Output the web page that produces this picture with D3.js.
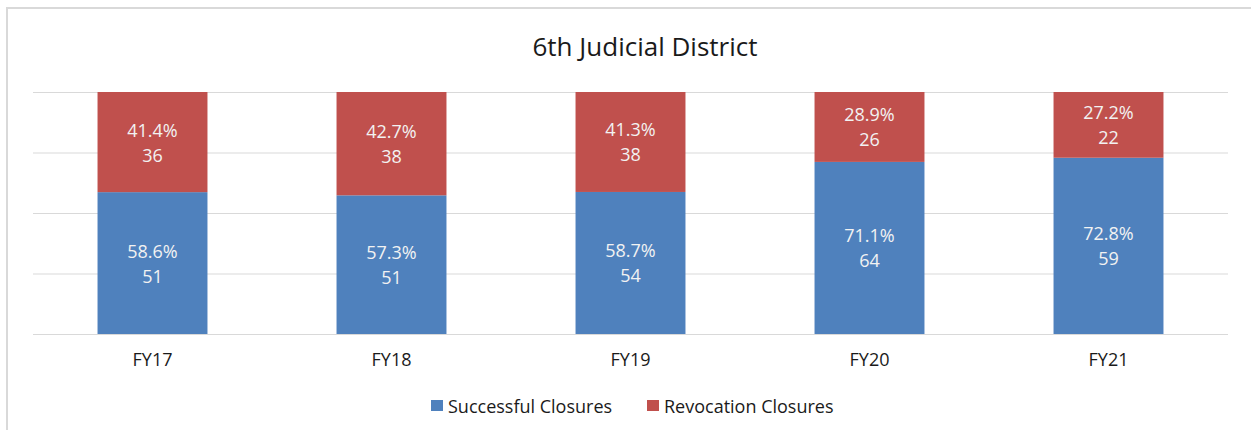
<head>
    <script src="https://d3js.org/d3.v7.min.js"></script>
    <style>
        body { margin: 0; background: #fff; }
        text { font-family: "Open Sans", sans-serif; }
    </style>
</head>

<body>
    <div id="graph"></div>
</body>
<script>
    // values
    const years = ['FY17', 'FY18', 'FY19', 'FY20', 'FY21']
    const successful = [51, 51, 54, 64, 59]
    const revocation = [36, 38, 38, 26, 22]
    const seriesNames = ['Successful Closures', 'Revocation Closures']
    const colors = ['#4f81bd', '#c0504d']
    const gridTicks = [0, 0.25, 0.5, 0.75, 1]

    const rows = years.map((y, i) => {
        const total = successful[i] + revocation[i]
        return {
            year: y,
            s: successful[i] / total, r: revocation[i] / total,
            sCount: successful[i], rCount: revocation[i]
        }
    })

    const svg = d3.select('#graph').append('svg')
        .attr('width', 1251)
        .attr('height', 430)

    // chart frame (only top and left edges are visible in the picture)
    svg.append('rect')
        .attr('x', 7).attr('y', 8)
        .attr('width', 1260).attr('height', 440)
        .attr('fill', 'none')
        .attr('stroke', '#d9d9d9')
        .attr('stroke-width', 2)

    svg.append('text')
        .attr('x', 645).attr('y', 56)
        .attr('text-anchor', 'middle')
        .attr('font-size', 26)
        .attr('fill', '#1a1a1a')
        .text('6th Judicial District')

    const xScale = d3.scaleBand()
        .domain(years)
        .range([33, 1228])
        .paddingInner(0.54)
        .paddingOuter(0.27)

    const yScale = d3.scaleLinear()
        .domain([0, 1])
        .range([334, 92])

    // gridlines
    const grid = svg.append('g')
        .attr('transform', 'translate(33, 0)')
        .call(d3.axisLeft(yScale).tickValues(gridTicks).tickSize(-1195).tickFormat(''))
    grid.select('.domain').remove()
    grid.selectAll('line').attr('stroke', '#d9d9d9')

    const stack = d3.stack().keys(['s', 'r'])
    const layers = stack(rows)

    const layer = svg.selectAll('.layer')
        .data(layers)
        .enter().append('g')
        .attr('fill', (d, i) => colors[i])

    layer.selectAll('rect')
        .data(d => d)
        .enter().append('rect')
        .attr('x', d => xScale(d.data.year))
        .attr('y', d => yScale(d[1]))
        .attr('height', d => yScale(d[0]) - yScale(d[1]))
        .attr('width', xScale.bandwidth())

    // data labels: percent and count
    layers.forEach((ly, li) => {
        const key = li === 0 ? 's' : 'r'
        const g = svg.append('g')
            .attr('fill', '#f2f2f2')
            .attr('font-size', 18)
            .attr('text-anchor', 'middle')
        ly.forEach(d => {
            const cx = xScale(d.data.year) + xScale.bandwidth() / 2
            const cy = (yScale(d[0]) + yScale(d[1])) / 2
            g.append('text')
                .attr('x', cx).attr('y', cy - 12.5)
                .attr('dominant-baseline', 'central')
                .text((d.data[key] * 100).toFixed(1) + '%')
            g.append('text')
                .attr('x', cx).attr('y', cy + 12.5)
                .attr('dominant-baseline', 'central')
                .text(d.data[key + 'Count'])
        })
    })

    const xAxis = svg.append('g')
        .attr('transform', 'translate(0, 334)')
        .call(d3.axisBottom(xScale).tickSize(0).tickPadding(19))
    xAxis.select('.domain').remove()
    xAxis.selectAll('text')
        .attr('font-size', 18)
        .attr('fill', '#1a1a1a')
        .style('font-family', '"Open Sans", sans-serif')

    // legend
    const legendX = [431, 647]
    const legend = svg.selectAll('.legend')
        .data(seriesNames)
        .enter().append('g')
        .attr('transform', (d, i) => `translate(${legendX[i]}, 400)`)
    legend.append('rect')
        .attr('width', 12).attr('height', 11)
        .attr('fill', (d, i) => colors[i])
    legend.append('text')
        .attr('x', 17).attr('y', 6)
        .attr('dominant-baseline', 'central')
        .attr('font-size', 18)
        .attr('fill', '#1a1a1a')
        .text(d => d)
</script>
